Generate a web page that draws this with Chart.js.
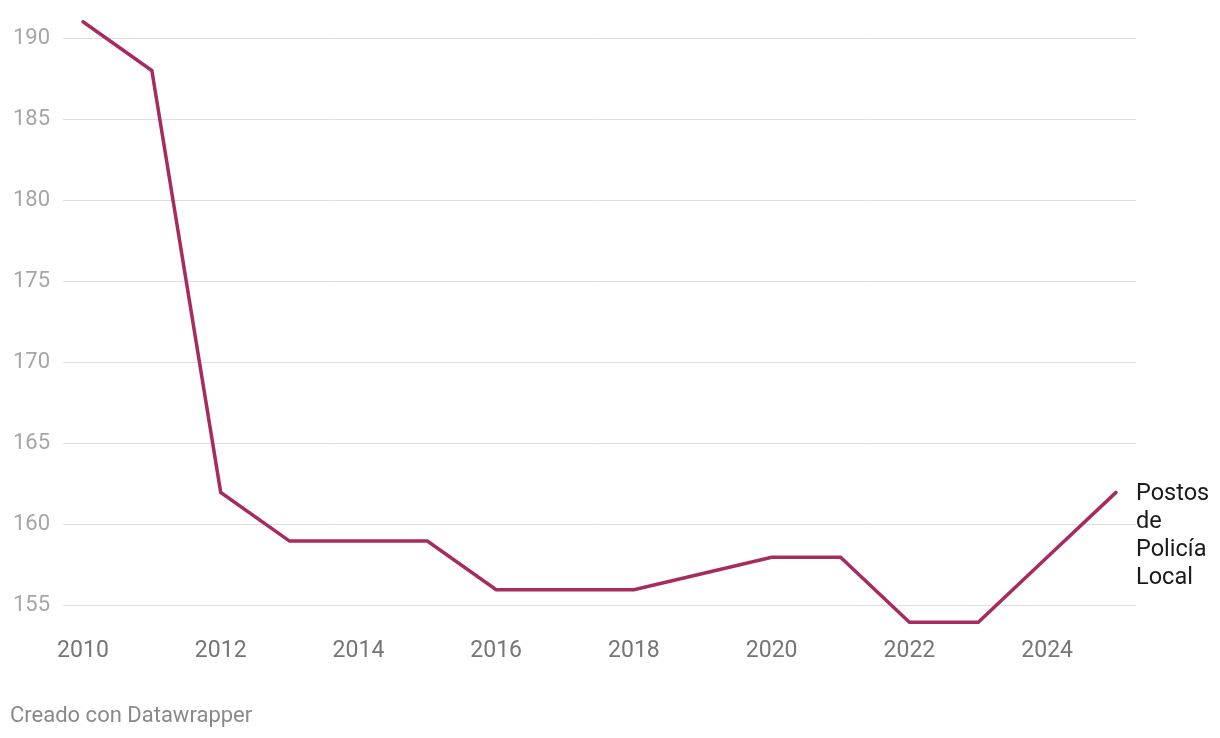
<!DOCTYPE html>
<html>
<head>
<meta charset="utf-8">
<script src="https://cdn.jsdelivr.net/npm/chart.js@4/dist/chart.umd.min.js"></script>
<style>
html,body{margin:0;padding:0;background:#fff;}
#wrap{position:relative;width:1220px;height:738px;}
#footer{position:absolute;left:10px;top:702px;font-family:Roboto,sans-serif;font-size:22px;color:#8a8a8a;}
</style>
</head>
<body>
<div id="wrap">
<canvas id="c" width="1220" height="738"></canvas>
<div id="footer">Creado con Datawrapper</div>
</div>
<script>
const years = [2010,2011,2012,2013,2014,2015,2016,2017,2018,2019,2020,2021,2022,2023,2024,2025];
const postos = [191,188,162,159,159,159,156,156,156,157,158,158,154,154,158,162];
const xTicks = [2010,2012,2014,2016,2018,2020,2022,2024];
const yTicks = [155,160,165,170,175,180,185,190];
const seriesLabel = ["Postos","de","Policía","Local"];

const lineColor = '#a62b5e';

const endLabel = {
  id:'endLabel',
  afterDatasetsDraw(chart){
    const meta = chart.getDatasetMeta(0);
    const pt = meta.data[meta.data.length-1];
    const ctx = chart.ctx;
    ctx.save();
    ctx.font = '23.5px Roboto, sans-serif';
    ctx.fillStyle = '#1a1a1a';
    ctx.textAlign = 'left';
    ctx.textBaseline = 'middle';
    seriesLabel.forEach((t,i)=>{
      ctx.fillText(t, pt.x + 20, pt.y + 2 + i*28);
    });
    ctx.restore();
  }
};

new Chart(document.getElementById('c'), {
  type:'line',
  data:{
    datasets:[{
      data: years.map((y,i)=>({x:y,y:postos[i]})),
      borderColor: lineColor,
      borderWidth: 3.5,
      pointRadius: 0,
      tension: 0,
      fill:false,
      borderCapStyle:'round',
      borderJoinStyle:'miter'
    }]
  },
  options:{
    responsive:false,
    animation:false,
    layout:{padding:{top:14,right:84,left:0,bottom:68}},
    plugins:{legend:{display:false},tooltip:{enabled:false}},
    scales:{
      x:{
        type:'linear',
        min:2009.710, max:2025.290,
        afterBuildTicks(s){ s.ticks = xTicks.map(v=>({value:v})); },
        afterFit(s){ s.height = 40; s.paddingLeft = 0; s.paddingRight = 0; },
        grid:{display:false, drawTicks:false},
        border:{display:false},
        ticks:{
          padding:7,
          color:'#767676',
          font:{family:'Roboto', size:23},
          maxRotation:0,
          autoSkip:false,
          callback:v=>String(v)
        }
      },
      y:{
        min:153.52, max:191.48,
        afterBuildTicks(s){ s.ticks = yTicks.map(v=>({value:v})); },
        afterFit(s){ s.width = 63; s.paddingTop = 0; s.paddingBottom = 0; },
        grid:{color:'#dedede', lineWidth:1, drawTicks:false},
        border:{display:false},
        ticks:{
          padding:13,
          color:'#a6a6a6',
          font:{family:'Roboto', size:22},
          callback:v=>String(v)
        }
      }
    }
  },
  plugins:[endLabel]
});
</script>
</body>
</html>
